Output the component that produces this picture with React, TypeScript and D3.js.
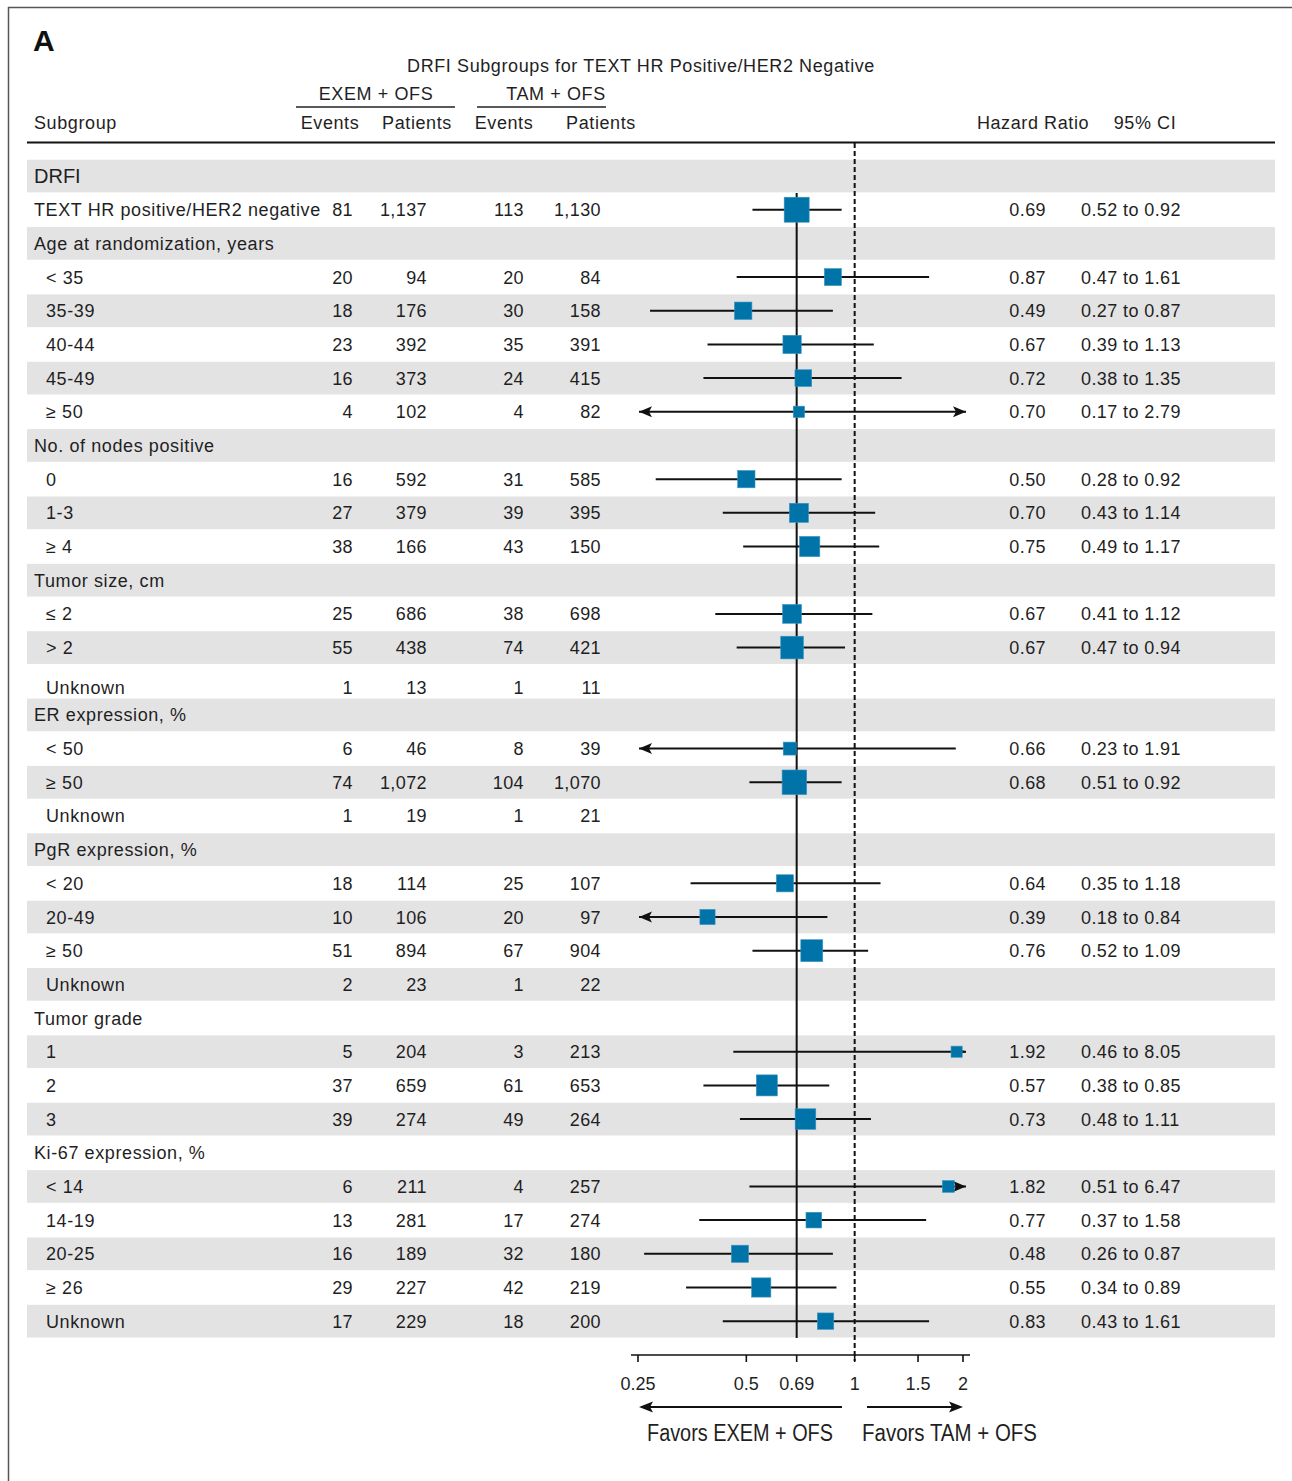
import React from "react";
import * as d3 from "d3";

// ---------- data ----------
const rowLabels = [
  "DRFI", "TEXT HR positive/HER2 negative",
  "Age at randomization, years", "< 35", "35-39", "40-44", "45-49", "\u2265 50",
  "No. of nodes positive", "0", "1-3", "\u2265 4",
  "Tumor size, cm", "\u2264 2", "> 2", "Unknown",
  "ER expression, %", "< 50", "\u2265 50", "Unknown",
  "PgR expression, %", "< 20", "20-49", "\u2265 50", "Unknown",
  "Tumor grade", "1", "2", "3",
  "Ki-67 expression, %", "< 14", "14-19", "20-25", "\u2265 26", "Unknown",
];
// 0 = section title, 1 = group header / overall, 2 = subgroup item
const rowLevel = [0, 1, 1, 2, 2, 2, 2, 2, 1, 2, 2, 2, 1, 2, 2, 2, 1, 2, 2, 2, 1, 2, 2, 2, 2, 1, 2, 2, 2, 1, 2, 2, 2, 2, 2];
const exemEvents = [null, 81, null, 20, 18, 23, 16, 4, null, 16, 27, 38, null, 25, 55, 1, null, 6, 74, 1, null, 18, 10, 51, 2, null, 5, 37, 39, null, 6, 13, 16, 29, 17];
const exemPatients = [null, 1137, null, 94, 176, 392, 373, 102, null, 592, 379, 166, null, 686, 438, 13, null, 46, 1072, 19, null, 114, 106, 894, 23, null, 204, 659, 274, null, 211, 281, 189, 227, 229];
const tamEvents = [null, 113, null, 20, 30, 35, 24, 4, null, 31, 39, 43, null, 38, 74, 1, null, 8, 104, 1, null, 25, 20, 67, 1, null, 3, 61, 49, null, 4, 17, 32, 42, 18];
const tamPatients = [null, 1130, null, 84, 158, 391, 415, 82, null, 585, 395, 150, null, 698, 421, 11, null, 39, 1070, 21, null, 107, 97, 904, 22, null, 213, 653, 264, null, 257, 274, 180, 219, 200];
const hazard = [null, 0.69, null, 0.87, 0.49, 0.67, 0.72, 0.70, null, 0.50, 0.70, 0.75, null, 0.67, 0.67, null, null, 0.66, 0.68, null, null, 0.64, 0.39, 0.76, null, null, 1.92, 0.57, 0.73, null, 1.82, 0.77, 0.48, 0.55, 0.83];
const ciLow = [null, 0.52, null, 0.47, 0.27, 0.39, 0.38, 0.17, null, 0.28, 0.43, 0.49, null, 0.41, 0.47, null, null, 0.23, 0.51, null, null, 0.35, 0.18, 0.52, null, null, 0.46, 0.38, 0.48, null, 0.51, 0.37, 0.26, 0.34, 0.43];
const ciHigh = [null, 0.92, null, 1.61, 0.87, 1.13, 1.35, 2.79, null, 0.92, 1.14, 1.17, null, 1.12, 0.94, null, null, 1.91, 0.92, null, null, 1.18, 0.84, 1.09, null, null, 8.05, 0.85, 1.11, null, 6.47, 1.58, 0.87, 0.89, 1.61];
const tickValues = [0.25, 0.5, 0.69, 1, 1.5, 2];
const tickLabels = ["0.25", "0.5", "0.69", "1", "1.5", "2"];
const overallHR = 0.69;

// ---------- layout ----------
const W = 1292;
const H = 1481;
const FONT = "'Liberation Sans', Arial, Helvetica, sans-serif";
const TXT = "#1f1f1f";
const BAND = "#e4e3e4";
const SQ = "#0074a8";

const x = d3.scaleLog().domain([0.25, 2]).range([638, 963]);
const y = d3.scaleBand<number>().domain(d3.range(rowLabels.length)).range([159.2, 1338]).padding(0);
const step = y.step();
const cy = (i: number) => (y(i) as number) + step / 2;

const precision = rowLabels.map((_, i) =>
  hazard[i] == null ? 0 : 3.92 / (Math.log(ciHigh[i] as number) - Math.log(ciLow[i] as number))
);
const size = d3.scaleSqrt().domain([0, d3.max(precision) as number]).range([0, 25]);

const fmtInt = d3.format(",");
const fmtHR = d3.format(".2f");

const baseText = { fontFamily: FONT, fill: TXT, fontSize: 18, letterSpacing: 0.6 } as const;
const numText = { fontFamily: FONT, fill: TXT, fontSize: 18, letterSpacing: 0.4 } as const;

export default function App() {
  const lo = 0.25, hiEdge = 2;
  return (
    <svg width={W} height={H} style={{ position: "absolute", left: 0, top: 0, background: "#fff" }}>
      {/* frame */}
      <line x1={8} x2={W} y1={7.5} y2={7.5} stroke="#555" strokeWidth={1.5} />
      <line x1={8.5} x2={8.5} y1={7} y2={H} stroke="#555" strokeWidth={1.5} />
      <text x={33} y={51} style={{ fontFamily: FONT, fontWeight: 700, fontSize: 30, fill: "#111" }}>A</text>

      {/* title and headers */}
      <text x={641} y={72} textAnchor="middle" style={{ ...baseText, fontSize: 18, letterSpacing: 0.6 }}>
        DRFI Subgroups for TEXT HR Positive/HER2 Negative
      </text>
      <text x={376} y={100} textAnchor="middle" style={baseText}>EXEM + OFS</text>
      <text x={556} y={100} textAnchor="middle" style={baseText}>TAM + OFS</text>
      <line x1={296} x2={455} y1={107} y2={107} stroke="#222" strokeWidth={1.5} />
      <line x1={477} x2={606} y1={107} y2={107} stroke="#222" strokeWidth={1.5} />
      <text x={34} y={129} style={baseText}>Subgroup</text>
      <text x={330} y={129} textAnchor="middle" style={baseText}>Events</text>
      <text x={417} y={129} textAnchor="middle" style={baseText}>Patients</text>
      <text x={504} y={129} textAnchor="middle" style={baseText}>Events</text>
      <text x={601} y={129} textAnchor="middle" style={baseText}>Patients</text>
      <text x={1033} y={129} textAnchor="middle" style={baseText}>Hazard Ratio</text>
      <text x={1145} y={129} textAnchor="middle" style={baseText}>95% CI</text>
      <line x1={27} x2={1275} y1={142.5} y2={142.5} stroke="#111" strokeWidth={2} />

      {/* row bands */}
      {rowLabels.map((_, i) =>
        i % 2 === 0 ? (
          <rect key={"b" + i} x={27} width={1248} y={(y(i) as number) + 0.5} height={step - 1} fill={BAND} />
        ) : null
      )}

      {/* reference lines */}
      <line x1={x(overallHR)} x2={x(overallHR)} y1={y(1) as number} y2={1338} stroke="#111" strokeWidth={2} />
      <line x1={x(1)} x2={x(1)} y1={143} y2={1361} stroke="#111" strokeWidth={2} strokeDasharray="5 3" />

      {/* rows text */}
      {rowLabels.map((lab, i) => {
        const shift = lab === "Unknown" && i === 15 ? 6 : 0;
        const ty = cy(i) + 6.5 + shift;
        const lvl = rowLevel[i];
        return (
          <g key={"t" + i}>
            <text
              x={lvl === 2 ? 46 : 34}
              y={lvl === 0 ? ty + 0.5 : ty}
              style={lvl === 0 ? { ...baseText, fontSize: 20, letterSpacing: 0 } : baseText}
            >
              {lab}
            </text>
            {exemEvents[i] != null && (
              <>
                <text x={353} y={ty} textAnchor="end" style={numText}>{fmtInt(exemEvents[i] as number)}</text>
                <text x={427} y={ty} textAnchor="end" style={numText}>{fmtInt(exemPatients[i] as number)}</text>
                <text x={524} y={ty} textAnchor="end" style={numText}>{fmtInt(tamEvents[i] as number)}</text>
                <text x={601} y={ty} textAnchor="end" style={numText}>{fmtInt(tamPatients[i] as number)}</text>
              </>
            )}
            {hazard[i] != null && (
              <>
                <text x={1046} y={ty} textAnchor="end" style={numText}>{fmtHR(hazard[i] as number)}</text>
                <text x={1081} y={ty} style={numText}>
                  {fmtHR(ciLow[i] as number)} to {fmtHR(ciHigh[i] as number)}
                </text>
              </>
            )}
          </g>
        );
      })}

      {/* CI lines, arrows and squares */}
      {rowLabels.map((_, i) => {
        if (hazard[i] == null) return null;
        const yy = cy(i);
        const l = ciLow[i] as number;
        const h = ciHigh[i] as number;
        const leftArrow = l < lo;
        const rightArrow = h > hiEdge;
        const x1 = leftArrow ? x(lo) + 1 : x(l);
        const x2 = rightArrow ? x(hiEdge) + 3 : x(h);
        const s = size(precision[i]);
        const cx = x(hazard[i] as number);
        return (
          <g key={"m" + i}>
            <line x1={x1} x2={x2} y1={yy} y2={yy} stroke="#111" strokeWidth={2} />
            {leftArrow && (
              <path d={`M${x1},${yy} L${x1 + 13},${yy - 5.5} L${x1 + 10},${yy} L${x1 + 13},${yy + 5.5} Z`} fill="#111" />
            )}
            {rightArrow && (
              <path d={`M${x2},${yy} L${x2 - 13},${yy - 5.5} L${x2 - 10},${yy} L${x2 - 13},${yy + 5.5} Z`} fill="#111" />
            )}
            <rect x={cx - s / 2} y={yy - s / 2} width={s} height={s} fill={SQ} stroke="#3d94c4" strokeWidth={0.6} />
          </g>
        );
      })}

      {/* axis */}
      <g>
        <line x1={x(0.25) - 7} x2={x(2) + 7} y1={1355} y2={1355} stroke="#111" strokeWidth={1.6} />
        {tickValues.map((t, k) => (
          <g key={"tk" + k}>
            <line x1={x(t)} x2={x(t)} y1={1355} y2={1362} stroke="#111" strokeWidth={1.6} />
            <text x={x(t)} y={1390} textAnchor="middle" style={{ fontFamily: FONT, fill: TXT, fontSize: 18 }}>
              {tickLabels[k]}
            </text>
          </g>
        ))}
        {/* favors arrows */}
        <line x1={x(0.25) + 4} x2={842} y1={1407} y2={1407} stroke="#111" strokeWidth={2} />
        <path d={`M${x(0.25) + 1},1407 L${x(0.25) + 15},1401.5 L${x(0.25) + 12},1407 L${x(0.25) + 15},1412.5 Z`} fill="#111" />
        <line x1={867} x2={x(2) - 3} y1={1407} y2={1407} stroke="#111" strokeWidth={2} />
        <path d={`M${x(2)},1407 L${x(2) - 14},1401.5 L${x(2) - 11},1407 L${x(2) - 14},1412.5 Z`} fill="#111" />
        <text x={647} y={1441} textLength={186} lengthAdjust="spacingAndGlyphs" style={{ fontFamily: FONT, fill: TXT, fontSize: 23 }}>
          Favors EXEM + OFS
        </text>
        <text x={862} y={1441} textLength={175} lengthAdjust="spacingAndGlyphs" style={{ fontFamily: FONT, fill: TXT, fontSize: 23 }}>
          Favors TAM + OFS
        </text>
      </g>
    </svg>
  );
}
